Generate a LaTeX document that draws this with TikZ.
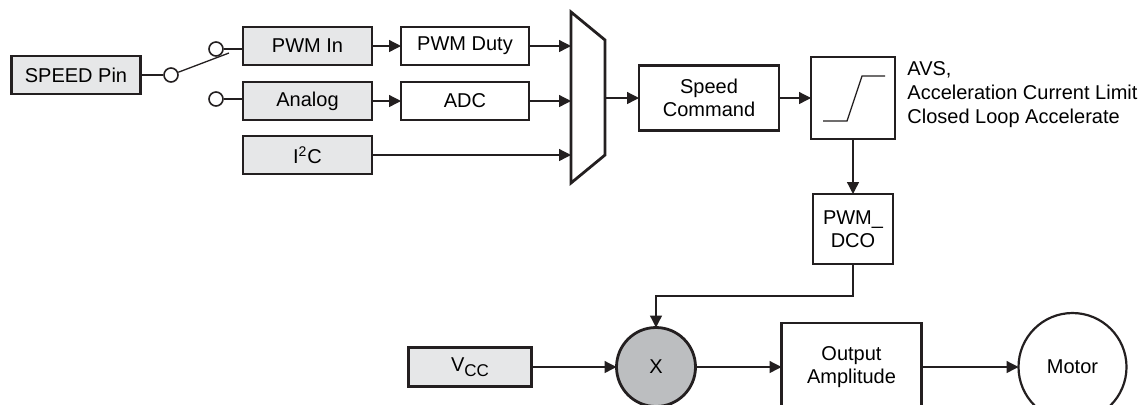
\documentclass[tikz,border=0pt]{standalone}
\usepackage{fontspec}
\setmainfont{Liberation Sans}
\usepackage{tikz}
\usetikzlibrary{positioning, arrows.meta, shapes.geometric}
\definecolor{boxgray}{HTML}{E6E7E8}
\definecolor{multgray}{HTML}{BCBEC0}
\definecolor{ink}{HTML}{231F20}
\def\feed{\draw[-{Triangle[length=6pt,width=6pt]}, line width=0.65pt, ink]}
\def\wire{\draw[line width=0.65pt, ink]}
\tikzset{
    gbox/.style={draw=ink, fill=boxgray, line width=1.4pt, outer sep=0pt, minimum width=64.5pt, minimum height=19pt},
    wbox/.style={draw=ink, fill=white, line width=1.4pt, outer sep=0pt, minimum width=64pt, minimum height=19pt, align=center},
    contact/.style={draw=ink, fill=white, circle, line width=0.8pt, inner sep=0pt, minimum size=7pt},
}

\begin{document}
\begin{tikzpicture}[x=0.5pt, y=-0.5pt, font=\fontsize{10}{11.5}\selectfont]
            \useasboundingbox (0,0) rectangle (1144,404);
            \node [gbox] (speed) at (76,75) {SPEED Pin};
            \node [gbox] (pwmin) at (307.5,46) {PWM In};
            \node [gbox, below=8.5pt of pwmin] (analog) {Analog};
            \node [gbox, below=8pt of analog] (iic) {I\textsuperscript{2}C};
            \node [wbox, right=14.5pt of pwmin] (duty) {PWM Duty};
            \node [wbox, right=14.5pt of analog] (adc) {ADC};
            \node [wbox, minimum width=70pt, minimum height=32.5pt] (cmd) at (709,98) {Speed\\Command};
            \node [wbox, right=16pt of cmd, minimum width=42pt, minimum height=41pt] (ramp) {};
            \node [wbox, below=27.5pt of ramp, minimum width=40pt, minimum height=35pt] (dco) {PWM\_\\DCO};
            \node [anchor=north west, align=left, inner sep=0pt, font=\fontsize{10}{12}\selectfont] (avs) at (907,61) {AVS,\\Acceleration Current Limit\\Closed Loop Accelerate};
            \node [gbox, minimum width=61.5pt, minimum height=19.5pt] (vcc) at (470,367) {V\raisebox{-0.45ex}{\fontsize{8.5}{8.5}\selectfont CC}};
            \node [draw=ink, fill=multgray, circle, line width=1.4pt, outer sep=0pt, minimum size=39.5pt] (mult) at (656,367) {X};
            \node [wbox, right=43pt of mult, minimum width=70pt, minimum height=44pt] (out) {Output\\Amplitude};
            \node [draw=ink, circle, line width=1.1pt, outer sep=0pt, minimum size=54pt, right=48.5pt of out] (motor) {Motor};

            % speed input switch
            \node [contact] (pivot) at (171,75) {};
            \node [contact] (c1) at (216,49) {};
            \node [contact] (c2) at (216,99) {};
            \coordinate (armend) at (229,53);

            % mux
            \draw[line width=1.4pt, ink, line join=miter] (571,12) -- (605,40) -- (605,155) -- (571,183) -- cycle;
            \coordinate (mx) at (571,0);
            \coordinate (mo) at (605,98);

            % ramp glyph
            \draw[line width=0.65pt, ink] ([shift={(-30,23)}]ramp.center) -- ++(24,0) -- ++(15,-45) -- ++(23,0);

            \wire (speed) -- (pivot);
            \wire (pivot) -- (armend);
            \wire (c1) -- (c1 -| pwmin.west);
            \wire (c2) -- (c2 -| analog.west);
            \feed (pwmin) -- (duty);
            \feed (analog) -- (adc);
            \feed (duty) -- (duty -| mx);
            \feed (adc) -- (adc -| mx);
            \feed (iic) -- (iic -| mx);
            \feed (mo) -- (cmd);
            \feed (cmd) -- (ramp);
            \feed (ramp) -- (dco);
            \feed (dco.south) -- ++(0,32) -| (mult.north);
            \feed (vcc) -- (mult);
            \feed (mult) -- (out);
            \feed (out) -- (motor);
        \end{tikzpicture}
\end{document}
